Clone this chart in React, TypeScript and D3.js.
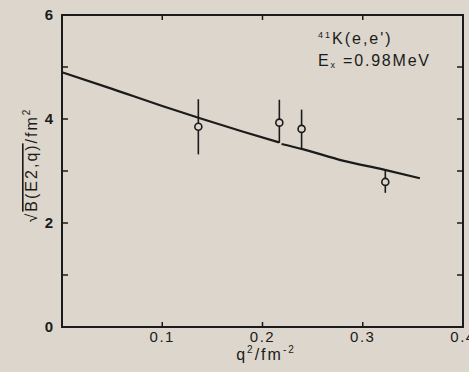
import React from "react";
import * as d3 from "d3";

const xTicks = [0.1, 0.2, 0.3, 0.4];
const xTickLabels = ["0.1", "0.2", "0.3", "0.4"];
const yTicks = [0, 2, 4, 6];
const yMinorTicks = [1, 2, 3, 4, 5];

const curveSeg1X = [0, 0.05, 0.1, 0.14, 0.18, 0.2165];
const curveSeg1Y = [4.9, 4.58, 4.25, 4.0, 3.76, 3.55];
const curveSeg2X = [0.219, 0.24, 0.28, 0.32, 0.357];
const curveSeg2Y = [3.52, 3.42, 3.2, 3.03, 2.86];

const pointX = [0.136, 0.2168, 0.239, 0.3225];
const pointY = [3.85, 3.93, 3.81, 2.79];
const errLow = [3.32, 3.54, 3.44, 2.58];
const errHigh = [4.38, 4.37, 4.18, 3.02];

const W = 469, H = 372;
const L = 62, R = 463, T = 15, B = 327;
const ink = "#1b1b1b";
const bg = "#dcd6cc";
const font = "'Liberation Sans', Arial, sans-serif";

export default function App() {
  const x = d3.scaleLinear().domain([0, 0.4]).range([L, R]);
  const y = d3.scaleLinear().domain([0, 6]).range([B, T]);
  const line = d3.line<[number, number]>().x(d => x(d[0])).y(d => y(d[1])).curve(d3.curveMonotoneX);
  const seg1 = curveSeg1X.map((v, i) => [v, curveSeg1Y[i]] as [number, number]);
  const seg2 = curveSeg2X.map((v, i) => [v, curveSeg2Y[i]] as [number, number]);
  return (
    <svg width={W} height={H} style={{ position: "absolute", left: 0, top: 0, background: bg }}>
      <rect x={0} y={0} width={W} height={H} fill={bg} />
      <rect x={L} y={T} width={R - L} height={B - T} fill="none" stroke={ink} strokeWidth={2} />
      {xTicks.slice(0, 3).map(t => (
        <g key={"xt" + t}>
          <line x1={x(t)} x2={x(t)} y1={B} y2={B - 5} stroke={ink} strokeWidth={1.5} />
          <line x1={x(t)} x2={x(t)} y1={T} y2={T + 5} stroke={ink} strokeWidth={1.5} />
        </g>
      ))}
      {yMinorTicks.map(t => (
        <g key={"yt" + t}>
          <line x1={L} x2={L + 6} y1={y(t)} y2={y(t)} stroke={ink} strokeWidth={1.5} />
          <line x1={R} x2={R - 6} y1={y(t)} y2={y(t)} stroke={ink} strokeWidth={1.5} />
        </g>
      ))}
      {xTicks.map((t, i) => (
        <text key={"xl" + t} x={x(t)} y={342} textAnchor="middle" fontFamily={font} fontSize={15} letterSpacing={1.5} fill={ink}>{xTickLabels[i]}</text>
      ))}
      {yTicks.map(t => (
        <text key={"yl" + t} x={49} y={y(t) + 5} textAnchor="middle" fontFamily={font} fontSize={15} fontWeight="bold" fill={ink}>{t}</text>
      ))}
      <path d={line(seg1) || ""} fill="none" stroke={ink} strokeWidth={2.2} />
      <path d={line(seg2) || ""} fill="none" stroke={ink} strokeWidth={2.2} />
      {pointX.map((px, i) => (
        <g key={"p" + i}>
          <line x1={x(px)} x2={x(px)} y1={y(errHigh[i])} y2={y(pointY[i]) - 3.5} stroke={ink} strokeWidth={1.6} />
          <line x1={x(px)} x2={x(px)} y1={y(pointY[i]) + 3.5} y2={y(errLow[i])} stroke={ink} strokeWidth={1.6} />
          <circle cx={x(px)} cy={y(pointY[i])} r={3.5} fill={bg} stroke={ink} strokeWidth={1.6} />
        </g>
      ))}
      <text x={318} y={44} fontFamily={font} fontSize={16} letterSpacing={2} fill={ink}>
        <tspan fontSize={9} dy={-6}>41</tspan><tspan dy={6}>K(e,e')</tspan>
      </text>
      <text x={318} y={66} fontFamily={font} fontSize={16} letterSpacing={1.8} fill={ink}>
        E<tspan fontSize={9} dy={2}>x</tspan><tspan dy={-2}> =0.98MeV</tspan>
      </text>
      <g transform="translate(37,165) rotate(-90)">
        <text x={0} y={0} textAnchor="middle" fontFamily={font} fontSize={16} letterSpacing={2} fill={ink}>
          √<tspan style={{ textDecoration: "overline" }}>B(E2,q)</tspan>/fm<tspan fontSize={10} dy={-7}>2</tspan>
        </text>
      </g>
      <text x={266} y={360} textAnchor="middle" fontFamily={font} fontSize={16} letterSpacing={2} fill={ink}>
        q<tspan fontSize={10} dy={-7}>2</tspan><tspan dy={7}>/fm</tspan><tspan fontSize={10} dy={-7}>-2</tspan>
      </text>
    </svg>
  );
}
